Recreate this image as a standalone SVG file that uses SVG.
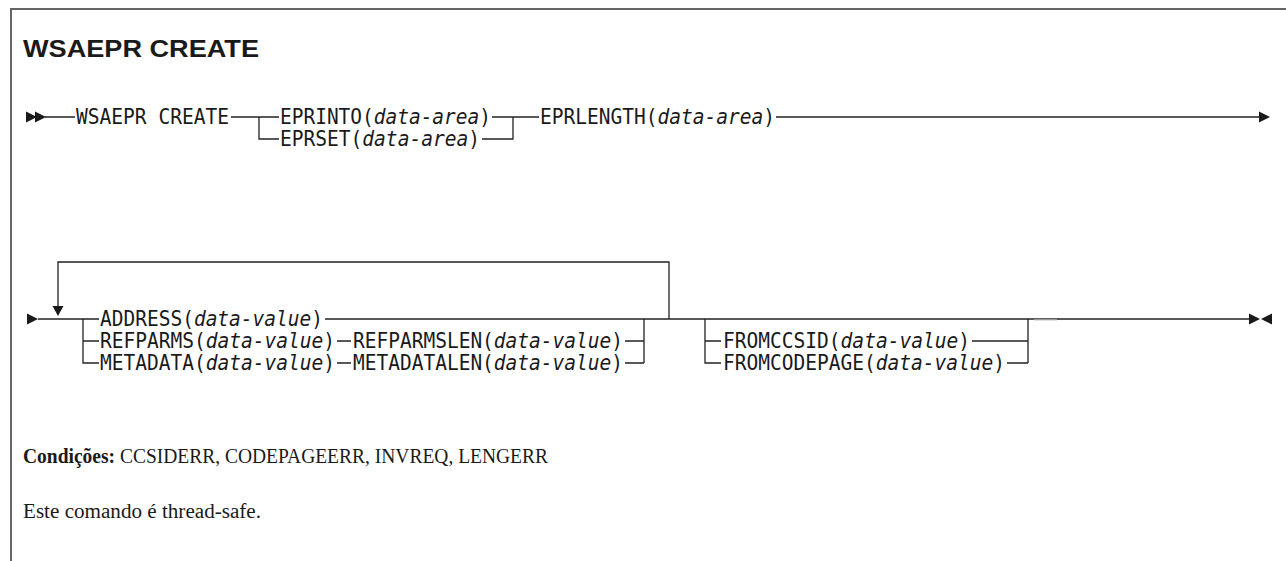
<svg xmlns="http://www.w3.org/2000/svg" width="1286" height="561" viewBox="0 0 1286 561">
  <style>
    .m{font-family:"DejaVu Sans Mono","Liberation Mono",monospace;font-size:21px;fill:#1a1a1a}
    .i{font-style:italic}
    .l{stroke:#222;stroke-width:1.3;fill:none}
    .frame{stroke:#666;stroke-width:2;fill:none}
    .title{font-family:"Liberation Sans",Arial,sans-serif;font-weight:bold;font-size:24px;fill:#1a1a1a}
    .s{font-family:"Liberation Serif","DejaVu Serif",serif;font-size:20px;fill:#1a1a1a}
    .a{fill:#1a1a1a}
  </style>
  <defs>
    <path id="right" d="M0,-5.5 L11,0 L0,5.5 Z"/>
    <path id="left" d="M0,-5.5 L-11,0 L0,5.5 Z"/>
    <path id="down" d="M-5.5,0 L5.5,0 L0,10 Z"/>
  </defs>
  <rect width="1286" height="561" fill="#fff"/>

  <!-- frame -->
  <path class="frame" d="M11,561 V9 H1286"/>

  <!-- title -->
  <text id="title" class="title" x="23" y="57" textLength="236" lengthAdjust="spacingAndGlyphs">WSAEPR CREATE</text>

  <!-- connectors -->
  <g id="connectors">
    <!-- row 1 -->
    <use href="#right" class="a" x="26" y="117"/>
    <use href="#right" class="a" x="35" y="117"/>
    <path class="l" d="M45,117 H75 M231,117 H279 M492,117 H539 M776,117 H1262"/>
    <path class="l" d="M259,117 V139 H279 M482,139 H513 V117"/>
    <use href="#right" class="a" x="1259" y="117"/>

    <!-- row 2 -->
    <use href="#right" class="a" x="27" y="319"/>
    <path class="l" d="M38,319 H99 M325,319 H1252"/>
    <path class="l" d="M669,319 V262 H58 V307"/>
    <use href="#down" class="a" x="58" y="306"/>
    <path class="l" d="M83,319 V363 H99 M83,341 H99"/>
    <path class="l" d="M337,341 H351 M625,341 H644 M337,363 H351 M625,363 H644 M644,319 V363"/>
    <path class="l" d="M705,319 V363 H721 M705,341 H721"/>
    <path class="l" d="M972,341 H1028 M1007,363 H1028 M1028,319 V363"/>
    <path d="M1034,319.6 H1057" stroke="#999" stroke-width="1.4"/>
    <use href="#right" class="a" x="1249" y="319"/>
    <use href="#left" class="a" x="1272" y="319"/>
  </g>

  <!-- row 1 nodes -->
  <g id="cmd"><text class="m" x="76" y="124" textLength="153" lengthAdjust="spacingAndGlyphs">WSAEPR CREATE</text></g>
  <g id="eprinto"><text class="m" x="280" y="124" textLength="211" lengthAdjust="spacingAndGlyphs">EPRINTO(<tspan class="i">data-area</tspan>)</text></g>
  <g id="eprset"><text class="m" x="280" y="146" textLength="200" lengthAdjust="spacingAndGlyphs">EPRSET(<tspan class="i">data-area</tspan>)</text></g>
  <g id="eprlength"><text class="m" x="540" y="124" textLength="235" lengthAdjust="spacingAndGlyphs">EPRLENGTH(<tspan class="i">data-area</tspan>)</text></g>

  <!-- row 2 nodes -->
  <g id="address"><text class="m" x="100" y="326" textLength="223" lengthAdjust="spacingAndGlyphs">ADDRESS(<tspan class="i">data-value</tspan>)</text></g>
  <g id="refparms"><text class="m" x="100" y="348" textLength="235" lengthAdjust="spacingAndGlyphs">REFPARMS(<tspan class="i">data-value</tspan>)</text></g>
  <g id="refparmslen"><text class="m" x="353" y="348" textLength="270" lengthAdjust="spacingAndGlyphs">REFPARMSLEN(<tspan class="i">data-value</tspan>)</text></g>
  <g id="metadata"><text class="m" x="100" y="370" textLength="235" lengthAdjust="spacingAndGlyphs">METADATA(<tspan class="i">data-value</tspan>)</text></g>
  <g id="metadatalen"><text class="m" x="353" y="370" textLength="270" lengthAdjust="spacingAndGlyphs">METADATALEN(<tspan class="i">data-value</tspan>)</text></g>
  <g id="fromccsid"><text class="m" x="723" y="348" textLength="247" lengthAdjust="spacingAndGlyphs">FROMCCSID(<tspan class="i">data-value</tspan>)</text></g>
  <g id="fromcodepage"><text class="m" x="723" y="370" textLength="282" lengthAdjust="spacingAndGlyphs">FROMCODEPAGE(<tspan class="i">data-value</tspan>)</text></g>

  <!-- notes -->
  <text class="s" x="23" y="463" textLength="525" lengthAdjust="spacingAndGlyphs"><tspan font-weight="bold">Condições:</tspan> CCSIDERR, CODEPAGEERR, INVREQ, LENGERR</text>
  <text class="s" x="23" y="518" textLength="238" lengthAdjust="spacingAndGlyphs">Este comando é thread-safe.</text>
</svg>
